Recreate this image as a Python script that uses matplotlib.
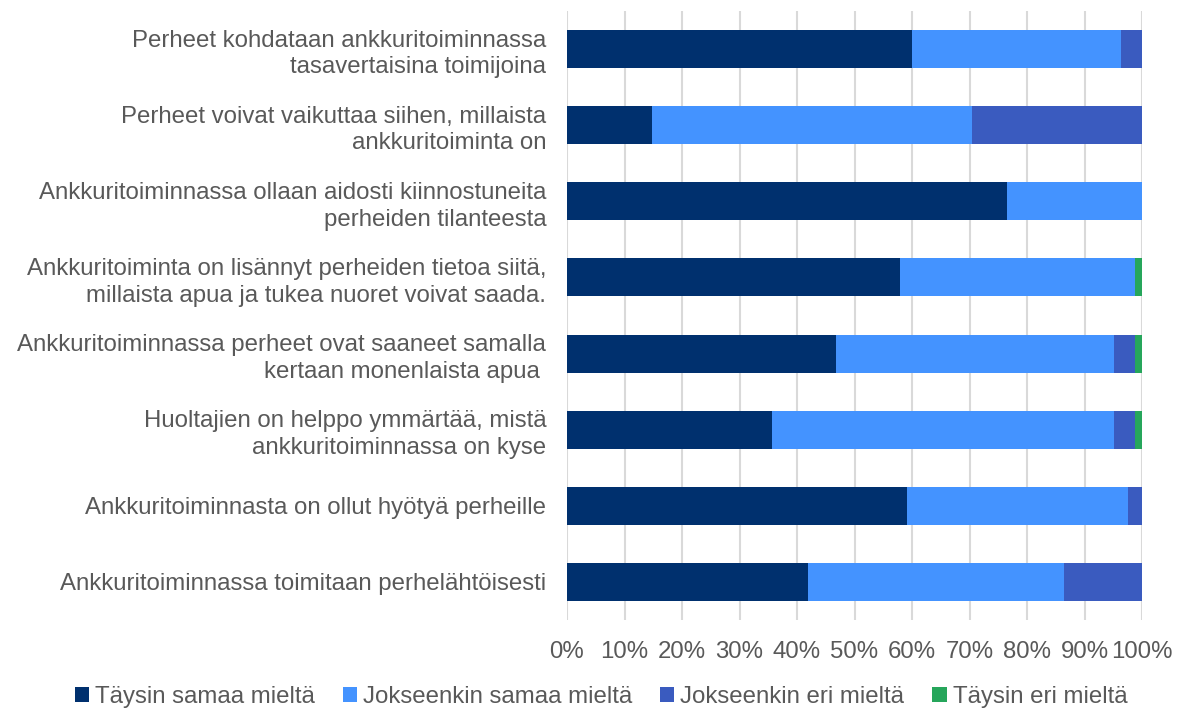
import matplotlib
matplotlib.use("Agg")
import matplotlib.pyplot as plt
import numpy as np

categories = [
    "Perheet kohdataan ankkuritoiminnassa\ntasavertaisina toimijoina",
    "Perheet voivat vaikuttaa siihen, millaista\nankkuritoiminta on",
    "Ankkuritoiminnassa ollaan aidosti kiinnostuneita\nperheiden tilanteesta",
    "Ankkuritoiminta on lisännyt perheiden tietoa siitä,\nmillaista apua ja tukea nuoret voivat saada.",
    "Ankkuritoiminnassa perheet ovat saaneet samalla\nkertaan monenlaista apua ",
    "Huoltajien on helppo ymmärtää, mistä\nankkuritoiminnassa on kyse",
    "Ankkuritoiminnasta on ollut hyötyä perheille",
    "Ankkuritoiminnassa toimitaan perhelähtöisesti",
]
series_names = ["Täysin samaa mieltä", "Jokseenkin samaa mieltä",
                "Jokseenkin eri mieltä", "Täysin eri mieltä"]
taysin_samaa = [60.0, 14.7, 76.5, 57.9, 46.7, 35.6, 59.1, 41.9]
jokseenkin_samaa = [36.3, 55.7, 23.5, 40.9, 48.4, 59.5, 38.4, 44.5]
jokseenkin_eri = [3.7, 29.6, 0.0, 0.0, 3.6, 3.6, 2.5, 13.6]
taysin_eri = [0.0, 0.0, 0.0, 1.2, 1.3, 1.3, 0.0, 0.0]
xtick_labels = ["0%", "10%", "20%", "30%", "40%", "50%", "60%", "70%", "80%", "90%", "100%"]

colors = ["#00306E", "#4493FF", "#3A5BBF", "#26A65B"]
text_color = "#595959"

plt.rcParams['font.family'] = ['Liberation Sans', 'DejaVu Sans']

fig = plt.figure(figsize=(11.79, 7.11), dpi=100)
ax = fig.add_axes([567/1179, 1 - 620/711, (1142-567)/1179, (620-11)/711])

y = np.arange(len(categories))
left = np.zeros(len(categories))
for name, vals, c in zip(series_names,
                         [taysin_samaa, jokseenkin_samaa, jokseenkin_eri, taysin_eri],
                         colors):
    vals = np.array(vals)
    ax.barh(y, vals, left=left, height=0.5, color=c, label=name, zorder=3)
    left += vals

ax.set_ylim(len(categories) - 0.5, -0.5)
ax.set_xlim(0, 100)
ax.set_xticks(np.arange(0, 101, 10))
ax.set_xticklabels(xtick_labels)
ax.set_yticks(y)
ax.set_yticklabels(categories, ha='right', linespacing=1.28)
ax.tick_params(axis='both', length=0, colors=text_color, labelsize=17.3)
ax.tick_params(axis='y', pad=15)
ax.tick_params(axis='x', pad=15)
ax.xaxis.grid(True, color="#D9D9D9", linewidth=1.5, zorder=0)
ax.set_axisbelow(True)
for s in ax.spines.values():
    s.set_visible(False)

leg = fig.legend(loc='center', bbox_to_anchor=(601/1179, 1 - 697/711), ncol=4,
                 frameon=False, fontsize=17.3, handlelength=0.6, handleheight=0.6,
                 handletextpad=0.25, columnspacing=1.15, labelcolor=text_color,
                 borderpad=0, borderaxespad=0)

fig.savefig("out.png", dpi=100)
